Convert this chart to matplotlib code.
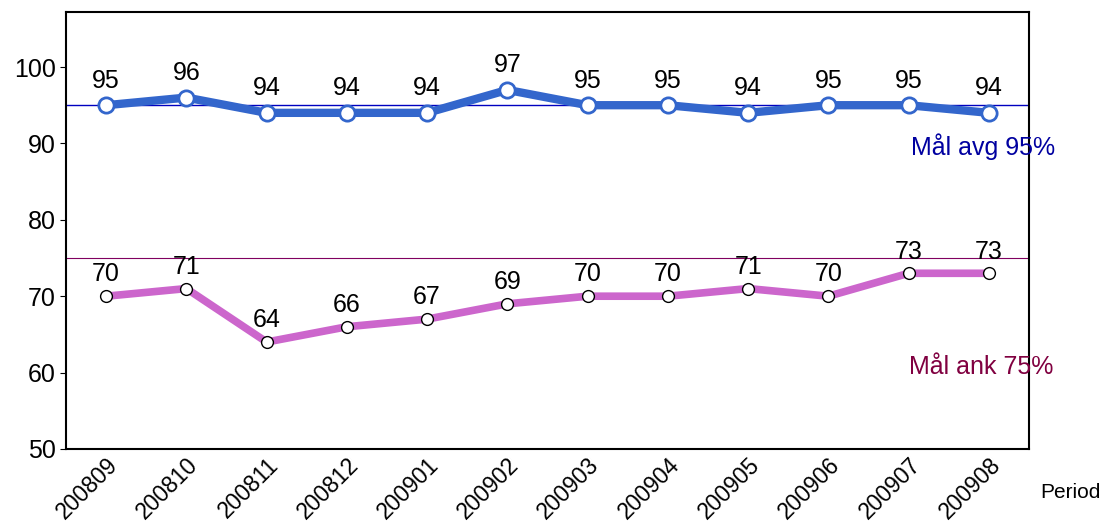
import matplotlib
matplotlib.use("Agg")
import matplotlib.pyplot as plt

periods = ["200809", "200810", "200811", "200812", "200901", "200902",
           "200903", "200904", "200905", "200906", "200907", "200908"]
avg = [95, 96, 94, 94, 94, 97, 95, 95, 94, 95, 95, 94]
ank = [70, 71, 64, 66, 67, 69, 70, 70, 71, 70, 73, 73]
goal_avg = 95
goal_ank = 75

plt.rcParams['font.family'] = ['Liberation Sans', 'DejaVu Sans']

fig = plt.figure(figsize=(11.04, 5.24), dpi=100)
ax = fig.add_axes([66/1104, 1-449/524, (1029-66)/1104, (449-12)/524])

x = list(range(len(periods)))
ax.axhline(goal_avg, color='#0000C0', lw=1.0, zorder=1)
ax.axhline(goal_ank, color='#800060', lw=0.8, zorder=1)

ax.plot(x, avg, color='#3366CC', lw=6, marker='o', ms=11, mfc='white',
        mec='#3366CC', mew=2.0, zorder=3)
ax.plot(x, ank, color='#CC66CC', lw=5.5, marker='o', ms=8.5, mfc='white',
        mec='black', mew=1.0, zorder=3)

for xi, v in zip(x, avg):
    ax.annotate(str(v), (xi, v), xytext=(0, 9), textcoords='offset points',
                ha='center', va='bottom', fontsize=18)
for xi, v in zip(x, ank):
    ax.annotate(str(v), (xi, v), xytext=(0, 7), textcoords='offset points',
                ha='center', va='bottom', fontsize=18)

ax.set_xlim(-0.5, len(periods) - 0.5)
ax.set_ylim(50, 107.2)
ax.set_yticks([50, 60, 70, 80, 90, 100])
ax.tick_params(axis='y', labelsize=18, length=4, direction='out')
ax.set_xticks(x)
ax.set_xticklabels(periods, rotation=45, ha='right', rotation_mode='anchor', fontsize=16.5)
ax.tick_params(axis='x', length=0, pad=3)
for s in ax.spines.values():
    s.set_linewidth(1.5)

fig.text(911/1104, 1-147/524, "Mål avg 95%", color='#0000A0', fontsize=18, va='center', ha='left')
fig.text(909/1104, 1-367/524, "Mål ank 75%", color='#800040', fontsize=18, va='center', ha='left')
fig.text(1101/1104, 1-493/524, "Period", color='black', fontsize=15, va='center', ha='right')

fig.savefig("out.png", dpi=100)
